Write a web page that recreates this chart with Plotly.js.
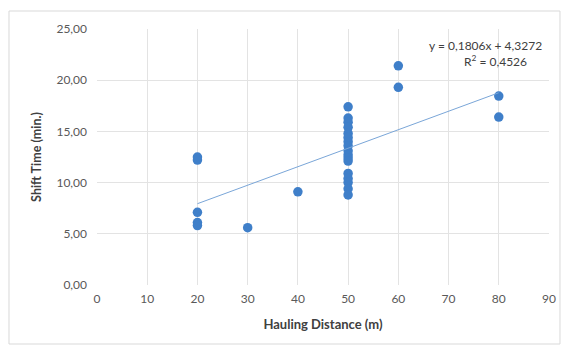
<!DOCTYPE html>
<html><head><meta charset="utf-8">
<script src="https://cdn.plot.ly/plotly-3.0.1.min.js"></script>
<style>html,body{margin:0;padding:0;background:#fff}#c{width:565px;height:346px}</style>
</head><body><div id="c"></div>
<script>
const distance = [20,20,20,20,20, 30, 40,
  50,50,50,50,50,50,50,50,50,50,50,50,50,50,50,50,50,
  60,60, 80,80];
const shiftTime = [12.5,12.2,7.1,6.1,5.8, 5.6, 9.1,
  17.4,16.3,15.9,15.4,14.8,14.4,14.0,13.6,13.1,12.7,12.4,12.1,10.9,10.4,10.0,9.4,8.8,
  21.4,19.3, 18.45,16.4];
const slope = 0.1806, intercept = 4.3272, r2 = 0.4526;
const xTicks = [0,10,20,30,40,50,60,70,80,90];
const yTicks = [0,5,10,15,20,25];

const xmin = Math.min(...distance), xmax = Math.max(...distance);
const trendX = [xmin, xmax];
const trendY = trendX.map(x => slope*x + intercept);
const fmt = v => v.toFixed(4).replace('.', ',');

const font = 'Lato, "Open Sans", sans-serif';
const data = [
  {x: distance, y: shiftTime, mode: 'markers', type: 'scatter',
   marker: {color: '#3f7fc9', size: 9.5, line: {width: 0}}, hoverinfo: 'skip'},
  {x: trendX, y: trendY, mode: 'lines', type: 'scatter',
   line: {color: '#7aa6d8', width: 1}, hoverinfo: 'skip'}
];
const layout = {
  width: 565, height: 346,
  margin: {l: 97, r: 16, t: 29, b: 61},
  paper_bgcolor: '#fff', plot_bgcolor: '#fff',
  showlegend: false,
  separators: ',.',
  font: {family: font, size: 12, color: '#595959'},
  xaxis: {range: [0, 90], tickvals: xTicks, ticks: '', showgrid: true,
    gridcolor: '#e3e3e3', gridwidth: 1, zeroline: false, showline: false,
    tickfont: {size: 12, color: '#595959'}, ticklabelstandoff: 5,
    title: {text: '<b>Hauling Distance (m)</b>', font: {size: 13, color: '#404040'}, standoff: 14}},
  yaxis: {range: [0, 25], tickvals: yTicks, tickformat: '.2f', ticks: '', showgrid: true,
    gridcolor: '#e3e3e3', gridwidth: 1, zeroline: false, showline: false,
    tickfont: {size: 12, color: '#595959'}, ticklabelstandoff: 9,
    title: {text: '<b>Shift Time (min.)</b>', font: {size: 12.5, color: '#404040'}, standoff: 12}},
  shapes: [
    {type: 'rect', xref: 'paper', yref: 'paper', x0: -0.1947, x1: 1.0243, y0: -0.2305, y1: 1.0703,
     line: {color: '#d9d9d9', width: 1}, fillcolor: 'rgba(0,0,0,0)', layer: 'below'}
  ],
  annotations: [
    {xref: 'x', yref: 'y', x: 77.3, y: 23.4, text: 'y = ' + fmt(slope) + 'x + ' + fmt(intercept),
     showarrow: false, font: {size: 12, color: '#404040'}, xanchor: 'center'},
    {xref: 'x', yref: 'y', x: 79.3, y: 21.85, text: 'R<sup>2</sup> = ' + fmt(r2),
     showarrow: false, font: {size: 12, color: '#404040'}, xanchor: 'center'}
  ]
};
Plotly.newPlot('c', data, layout, {staticPlot: true, displayModeBar: false});
</script></body></html>
